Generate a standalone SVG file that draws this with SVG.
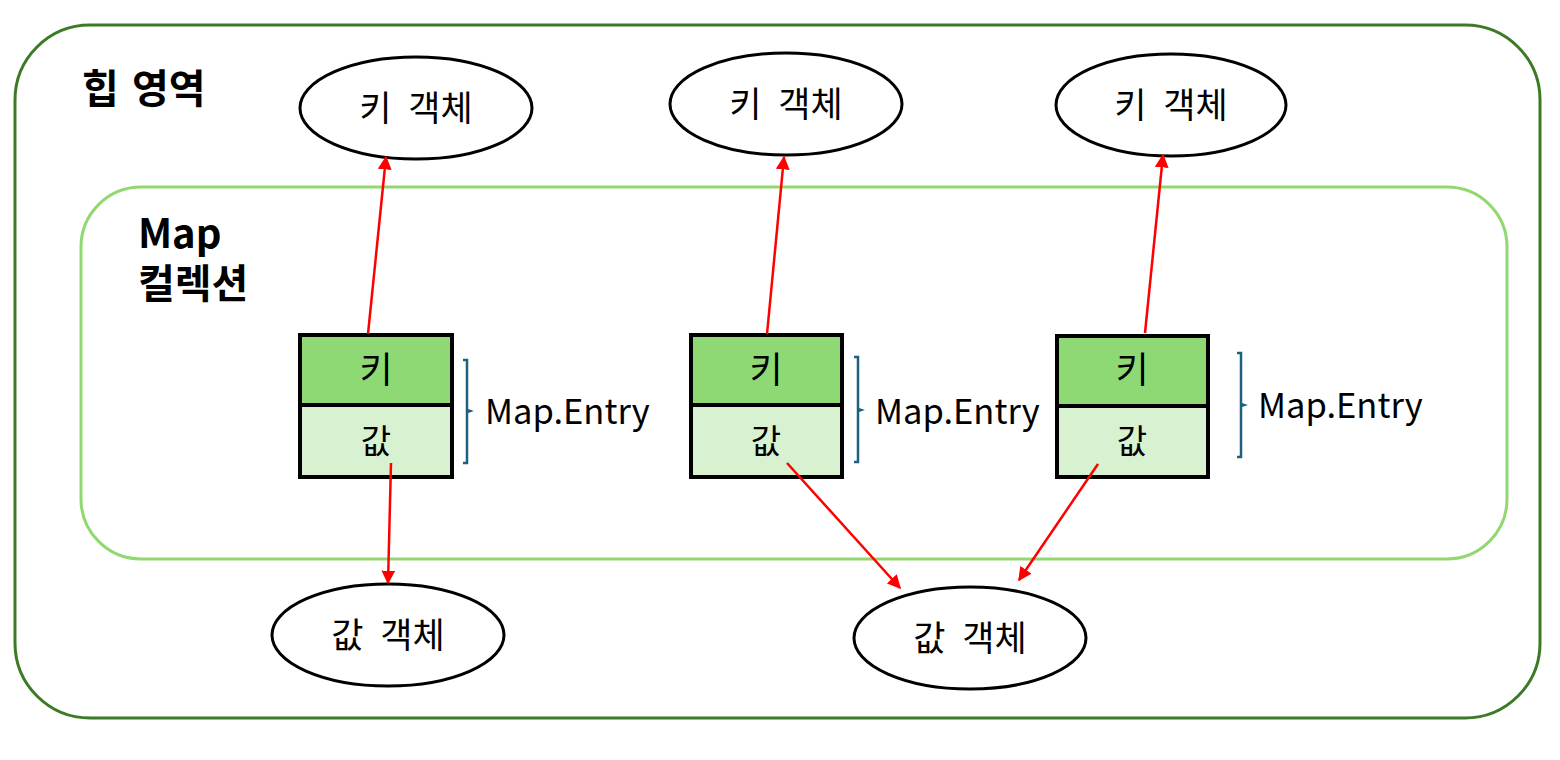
<svg xmlns="http://www.w3.org/2000/svg" width="1560" height="760" viewBox="0 0 1560 760">
<defs>
<style>
text{font-family:"Noto Sans CJK KR","Noto Sans",sans-serif;fill:#000}
.title{font-size:40px;font-weight:bold;word-spacing:4px}
.oval{fill:#fff;stroke:#000;stroke-width:3}
.lbl{font-size:35px;text-anchor:middle;word-spacing:9px}
.key{fill:#8fd975;stroke:#000;stroke-width:4}
.val{fill:#d8f1d1;stroke:#000;stroke-width:4}
.brk{fill:none;stroke:#1f5f80;stroke-width:2.5}
.me{font-size:34.5px}
.arr{stroke:#f00;stroke-width:2.5;fill:none;marker-end:url(#ah)}
</style>
<marker id="ah" viewBox="0 0 10 10" refX="9" refY="5" markerWidth="5.5" markerHeight="5.5" orient="auto" markerUnits="strokeWidth">
<path d="M0,0 L10,5 L0,10 z" fill="#f00"/>
</marker>
</defs>
<rect width="1560" height="760" fill="#fff"/>
<g id="heap">
<rect x="15" y="25" width="1525" height="693" rx="75" ry="75" fill="none" stroke="#3d7a27" stroke-width="3"/>
<text class="title" x="82" y="103">힙 영역</text>
</g>
<g id="map">
<rect x="81" y="187" width="1426" height="372" rx="60" ry="60" fill="none" stroke="#92d871" stroke-width="3"/>
<text class="title" x="138" y="248">Map</text>
<text class="title" x="138" y="298">컬렉션</text>
</g>
<g id="key1"><ellipse class="oval" cx="416" cy="108" rx="116" ry="51"/><text class="lbl" x="416" y="121">키 객체</text></g>
<g id="key2"><ellipse class="oval" cx="786" cy="104" rx="116" ry="51"/><text class="lbl" x="786" y="117">키 객체</text></g>
<g id="key3"><ellipse class="oval" cx="1171" cy="105" rx="115" ry="51"/><text class="lbl" x="1171" y="118">키 객체</text></g>
<g id="val1"><ellipse class="oval" cx="388" cy="635" rx="116" ry="51"/><text class="lbl" x="388" y="648">값 객체</text></g>
<g id="val2"><ellipse class="oval" cx="970" cy="638" rx="116" ry="51"/><text class="lbl" x="970" y="651">값 객체</text></g>
<g id="entry1">
<rect class="key" x="300" y="335" width="152" height="70"/>
<rect class="val" x="300" y="405" width="152" height="72"/>
<text class="lbl" x="376" y="383" style="font-size:36px">키</text>
<text class="lbl" x="376" y="453" style="font-size:33px">값</text>
<path class="brk" d="M463,360 H467 V410 L470,411 L467,412 V463 H463"/>
<text class="me" x="485" y="424">Map.Entry</text>
</g>
<g id="entry2">
<rect class="key" x="691" y="335" width="151" height="70"/>
<rect class="val" x="691" y="405" width="151" height="72"/>
<text class="lbl" x="766" y="383" style="font-size:36px">키</text>
<text class="lbl" x="766" y="453" style="font-size:33px">값</text>
<path class="brk" d="M854,357 H858 V409 L861,410 L858,411 V462 H854"/>
<text class="me" x="875" y="424">Map.Entry</text>
</g>
<g id="entry3">
<rect class="key" x="1057" y="336" width="151" height="70"/>
<rect class="val" x="1057" y="406" width="151" height="71"/>
<text class="lbl" x="1132" y="383" style="font-size:36px">키</text>
<text class="lbl" x="1132" y="453" style="font-size:33px">값</text>
<path class="brk" d="M1237,353 H1241 V404 L1244,405 L1241,406 V457 H1237"/>
<text class="me" x="1258" y="418">Map.Entry</text>
</g>
<g id="connectors">
<line class="arr" x1="368" y1="334" x2="386" y2="157"/>
<line class="arr" x1="767" y1="334" x2="784" y2="157"/>
<line class="arr" x1="1145" y1="333" x2="1163" y2="155"/>
<line class="arr" x1="391" y1="463" x2="388" y2="583"/>
<line class="arr" x1="787" y1="463" x2="900" y2="588"/>
<line class="arr" x1="1098" y1="464" x2="1019" y2="580"/>
</g>
</svg>
